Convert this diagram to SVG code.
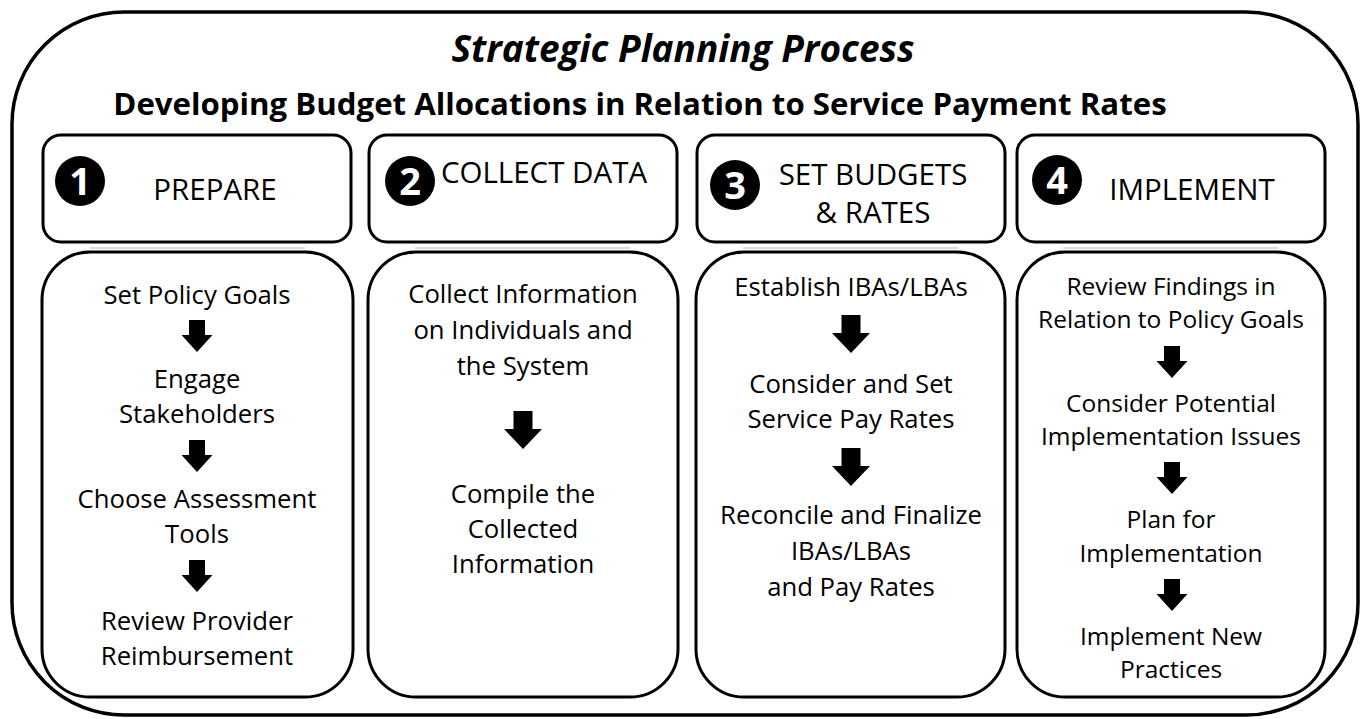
<svg xmlns="http://www.w3.org/2000/svg" width="1363" height="719" viewBox="0 0 1363 719">
  <style>
    .frame { fill: #ffffff; stroke: #000000; stroke-width: 3.5; }
    .head { fill: #ffffff; stroke: #000000; stroke-width: 3; }
    .body { fill: #ffffff; stroke: #000000; stroke-width: 3; }
    .shade { stroke: #dcdcdc; stroke-width: 2; }
    .title { font-family: "Open Sans", "Liberation Sans", sans-serif; font-weight: 700; font-style: italic; font-size: 37px; fill: #000; text-anchor: middle; }
    .subtitle { font-family: "Open Sans", "Liberation Sans", sans-serif; font-weight: 700; font-size: 31.2px; fill: #000; text-anchor: middle; }
    .htext { font-family: "Open Sans", "Liberation Sans", sans-serif; font-size: 29.5px; fill: #000; text-anchor: middle; }
    .num { font-family: "Open Sans", "Liberation Sans", sans-serif; font-weight: 700; font-size: 38px; fill: #fff; text-anchor: middle; }
    .step { font-family: "Open Sans", "Liberation Sans", sans-serif; font-size: 25.7px; fill: #000; text-anchor: middle; }
    .step4 { font-family: "Open Sans", "Liberation Sans", sans-serif; font-size: 24.5px; fill: #000; text-anchor: middle; }
    .arrow { fill: #000; }
  </style>
  <defs>
    <!-- block arrow pointing down, origin at top centre -->
    <path id="arrowS" d="M -8 0 H 8 V 15 H 15.5 L 0 32 L -15.5 15 H -8 Z"/>
    <path id="arrowL" d="M -9.5 0 H 9.5 V 18 H 19 L 0 38 L -19 18 H -9.5 Z"/>
  </defs>

  <!-- outer frame -->
  <rect class="frame" x="12" y="12" width="1346" height="703" rx="112" ry="112"/>

  <g id="heading">
    <text class="title" x="683" y="62">Strategic Planning Process</text>
    <text class="subtitle" x="640" y="115">Developing Budget Allocations in Relation to Service Payment Rates</text>
  </g>

  <!-- phase 1 -->
  <g id="phase1-header">
    <line class="shade" x1="90" y1="248" x2="305" y2="248"/>
    <rect class="head" x="43" y="135" width="308" height="107" rx="18" ry="18"/>
    <circle cx="80" cy="181" r="25" fill="#000"/>
    <text class="num" x="80" y="195">1</text>
    <text class="htext" x="215" y="200">PREPARE</text>
  </g>
  <g id="phase1-steps">
    <rect class="body" x="42" y="252" width="311" height="445" rx="48" ry="48"/>
    <text class="step" x="197" y="304">Set Policy Goals</text>
    <text class="step" x="197" y="388">Engage</text>
    <text class="step" x="197" y="423">Stakeholders</text>
    <text class="step" x="197" y="508">Choose Assessment</text>
    <text class="step" x="197" y="543">Tools</text>
    <text class="step" x="197" y="630">Review Provider</text>
    <text class="step" x="197" y="665">Reimbursement</text>
  </g>

  <!-- phase 2 -->
  <g id="phase2-header">
    <line class="shade" x1="415" y1="248" x2="630" y2="248"/>
    <rect class="head" x="369" y="135" width="308" height="107" rx="18" ry="18"/>
    <circle cx="410" cy="181" r="25" fill="#000"/>
    <text class="num" x="410" y="195">2</text>
    <text class="htext" x="544" y="183">COLLECT DATA</text>
  </g>
  <g id="phase2-steps">
    <rect class="body" x="368" y="252" width="310" height="445" rx="48" ry="48"/>
    <text class="step" x="523" y="303">Collect Information</text>
    <text class="step" x="523" y="339">on Individuals and</text>
    <text class="step" x="523" y="375">the System</text>
    <text class="step" x="523" y="503">Compile the</text>
    <text class="step" x="523" y="538">Collected</text>
    <text class="step" x="523" y="573">Information</text>
  </g>

  <!-- phase 3 -->
  <g id="phase3-header">
    <line class="shade" x1="743" y1="248" x2="958" y2="248"/>
    <rect class="head" x="697" y="135" width="308" height="107" rx="18" ry="18"/>
    <circle cx="735" cy="185" r="25" fill="#000"/>
    <text class="num" x="735" y="199">3</text>
    <text class="htext" x="873" y="185">SET BUDGETS</text>
    <text class="htext" x="873" y="223">&amp; RATES</text>
  </g>
  <g id="phase3-steps">
    <rect class="body" x="696" y="252" width="309" height="445" rx="48" ry="48"/>
    <text class="step" x="851" y="296">Establish IBAs/LBAs</text>
    <text class="step" x="851" y="393">Consider and Set</text>
    <text class="step" x="851" y="428">Service Pay Rates</text>
    <text class="step" x="851" y="524">Reconcile and Finalize</text>
    <text class="step" x="851" y="560">IBAs/LBAs</text>
    <text class="step" x="851" y="596">and Pay Rates</text>
  </g>

  <!-- phase 4 -->
  <g id="phase4-header">
    <line class="shade" x1="1063" y1="248" x2="1278" y2="248"/>
    <rect class="head" x="1017" y="135" width="308" height="107" rx="18" ry="18"/>
    <circle cx="1057" cy="180" r="25" fill="#000"/>
    <text class="num" x="1057" y="194">4</text>
    <text class="htext" x="1192" y="200">IMPLEMENT</text>
  </g>
  <g id="phase4-steps">
    <rect class="body" x="1017" y="252" width="308" height="445" rx="48" ry="48"/>
    <text class="step4" x="1171" y="295">Review Findings in</text>
    <text class="step4" x="1171" y="328">Relation to Policy Goals</text>
    <text class="step4" x="1171" y="412">Consider Potential</text>
    <text class="step4" x="1171" y="445">Implementation Issues</text>
    <text class="step4" x="1171" y="528">Plan for</text>
    <text class="step4" x="1171" y="562">Implementation</text>
    <text class="step4" x="1171" y="645">Implement New</text>
    <text class="step4" x="1171" y="678">Practices</text>
  </g>

  <!-- step-to-step arrows -->
  <g id="connectors" class="arrow">
    <use href="#arrowS" x="197" y="320"/>
    <use href="#arrowS" x="197" y="440"/>
    <use href="#arrowS" x="197" y="560"/>
    <use href="#arrowL" x="523" y="411"/>
    <use href="#arrowL" x="851" y="315"/>
    <use href="#arrowL" x="851" y="448"/>
    <use href="#arrowS" x="1172" y="346"/>
    <use href="#arrowS" x="1172" y="462"/>
    <use href="#arrowS" x="1172" y="579"/>
  </g>
</svg>
